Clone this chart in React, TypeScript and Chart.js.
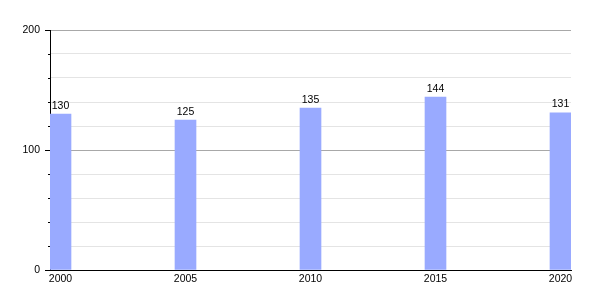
import React, { useEffect, useRef } from "react";
import { Chart, registerables } from "chart.js";

Chart.register(...registerables);

const years = [2000, 2005, 2010, 2015, 2020];
const values = [130, 125, 135, 144, 131];
const yTickLabels = [0, 100, 200];

const FONT = "'Liberation Sans', Arial, sans-serif";

const valueLabels = {
  id: "valueLabels",
  afterDatasetsDraw(chart: any) {
    const ctx = chart.ctx;
    const meta = chart.getDatasetMeta(0);
    ctx.save();
    ctx.font = `10.5px ${FONT}`;
    ctx.fillStyle = "#000";
    ctx.textAlign = "center";
    ctx.textBaseline = "bottom";
    meta.data.forEach((bar: any, i: number) => {
      ctx.fillText(String(values[i]), bar.x, bar.y - 3);
    });
    ctx.restore();
  },
};

const yTickMarks = {
  id: "yTickMarks",
  afterDraw(chart: any) {
    const ctx = chart.ctx;
    const y = chart.scales.y;
    const left = chart.chartArea.left;
    ctx.save();
    ctx.strokeStyle = "#000";
    ctx.lineWidth = 1;
    y.ticks.forEach((t: any) => {
      const py = Math.round(y.getPixelForValue(t.value)) + 0.5;
      const len = yTickLabels.includes(t.value) ? 5 : 2;
      ctx.beginPath();
      ctx.moveTo(left - len, py);
      ctx.lineTo(left, py);
      ctx.stroke();
    });
    ctx.restore();
  },
};

export default function App() {
  const ref = useRef<HTMLCanvasElement>(null);
  useEffect(() => {
    if (!ref.current) return;
    const chart = new Chart(ref.current, {
      type: "bar",
      data: {
        datasets: [
          {
            data: years.map((x, i) => ({ x, y: values[i] })),
            backgroundColor: "#99aaff",
            barThickness: 21,
          },
        ],
      },
      plugins: [valueLabels, yTickMarks],
      options: {
        animation: false,
        responsive: false,
        maintainAspectRatio: false,
        layout: { padding: { top: 30, right: 29, left: 0, bottom: 0 } },
        plugins: { legend: { display: false }, tooltip: { enabled: false } },
        scales: {
          x: {
            type: "linear",
            offset: false,
            min: 2000 - 0.42,
            max: 2020 + 0.42,
            afterBuildTicks: (scale: any) => {
              scale.ticks = years.map((v) => ({ value: v }));
            },
            afterFit: (scale: any) => {
              scale.height = 30;
            },
            ticks: {
              color: "#000",
              font: { family: FONT, size: 10.5 },
              padding: 3,
              maxRotation: 0,
              autoSkip: false,
              callback: (v: any) => String(v),
            },
            grid: { display: false, drawTicks: false, offset: false },
            border: { display: true, color: "#000", width: 1 },
          },
          y: {
            min: 0,
            max: 200,
            ticks: {
              stepSize: 20,
              color: "#000",
              font: { family: FONT, size: 10.5 },
              padding: 10,
              callback: (v: any) => (yTickLabels.includes(v) ? String(v) : ""),
            },
            afterFit: (scale: any) => {
              scale.width = 50;
            },
            grid: {
              drawTicks: false,
              tickLength: 0,
              color: (c: any) =>
                c.tick && yTickLabels.includes(c.tick.value) ? "#a8a8a8" : "#e4e4e4",
            },
            border: { display: true, color: "#000", width: 1 },
          },
        },
      },
    });
    return () => chart.destroy();
  }, []);
  return (
    <div style={{ position: "fixed", left: 0, top: 0, width: 600, height: 300, background: "#fff" }}>
      <canvas ref={ref} width={600} height={300} />
    </div>
  );
}
